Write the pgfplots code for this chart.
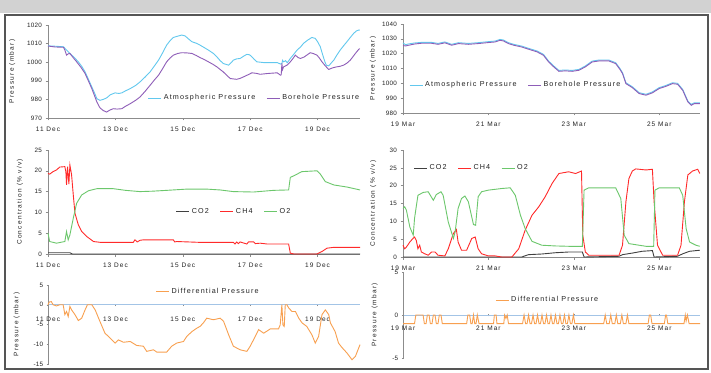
\documentclass[border=0pt]{standalone}
\usepackage{fontspec}
\setmainfont{Liberation Sans}
\newfontfamily\tickfont{Liberation Sans}[LetterSpace=4]
\newfontfamily\datefont{Liberation Sans}[LetterSpace=16]
\newfontfamily\legfont{Liberation Sans}[LetterSpace=16]
\newfontfamily\labfont{Liberation Sans}[LetterSpace=20]
\usepackage{pgfplots}
\pgfplotsset{compat=1.18}
\definecolor{atm}{HTML}{62C8EE}
\definecolor{bore}{HTML}{8E5DB8}
\definecolor{ch4}{HTML}{FF2A2A}
\definecolor{o2}{HTML}{6CC76C}
\definecolor{co2}{HTML}{404040}
\definecolor{diff}{HTML}{F8A050}
\definecolor{zero}{HTML}{A3C4E6}
\definecolor{axgray}{HTML}{8C8C8C}
\definecolor{txt}{HTML}{222222}
\definecolor{band}{HTML}{D2D2D2}
\definecolor{frame}{HTML}{555555}
\pgfplotsset{
  ex/.style={
    scale only axis, anchor=south west,
    axis x line=bottom, axis y line=left,
    axis line style={draw=axgray, line width=0.6pt, -},
    x axis line style={-}, y axis line style={-},
    tick style={draw=axgray, line width=0.5pt},
    tick align=outside, major tick length=2.5pt,
    hide obscured x ticks=false,
    yticklabel style={font=\tickfont\fontsize{6.3}{7}\selectfont, text=txt},
    xticklabel style={font=\datefont\fontsize{6.5}{7}\selectfont, text=txt, yshift=-3pt},
    ylabel style={font=\labfont\fontsize{6.5}{7}\selectfont, text=txt, anchor=center},
    legend style={draw=none, fill=none, font=\legfont\fontsize{7.2}{8}\selectfont, text=txt,
      legend columns=-1, /tikz/every even column/.append style={column sep=9pt}},
    legend image code/.code={\draw[##1] (0pt,0pt)--(13pt,0pt);},
    every axis plot/.append style={line width=0.9pt, mark=none},
    clip=false,
  },
  decx/.style={xmin=0, xmax=9.258, xtick={0,2,4,6,8}, xticklabels={11 Dec,13 Dec,15 Dec,17 Dec,19 Dec}},
  marx/.style={xmin=0, xmax=6.955, xtick={0,2,4,6}, xticklabels={19 Mar,21 Mar,23 Mar,25 Mar}},
}
\begin{document}
\begin{tikzpicture}
\useasboundingbox (0pt,0pt) rectangle (711pt,372pt);
\fill[white] (0pt,0pt) rectangle (711pt,372pt);
\fill[band] (0pt,359pt) rectangle (711pt,372pt);
\draw[frame, line width=1.6pt] (4.8pt,2.8pt) rectangle (708.2pt,357.2pt);

% ---------- top left
\begin{axis}[ex, decx, at={(48pt,254pt)}, width=312pt, height=93pt,
  ymin=970, ymax=1020, ytick={970,980,990,1000,1010,1020},
  yticklabels={970,980,990,1000,1010,1020},
  ylabel={Pressure (mbar)}, ylabel style={at={(axis description cs:-0.115,0.5)}},
  legend style={at={(rel axis cs:0.31,0.215)}, anchor=west}]
\addplot[atm] coordinates {(0,1008.8)(0.2,1008.6)(0.46,1008.3)(0.55,1006.5)(0.65,1004.7)(0.78,1002.5)(0.9,1000.2)(1.0,997.8)(1.1,994.8)(1.2,990.8)(1.3,986.7)(1.38,983.5)(1.45,980.4)(1.54,979.5)(1.64,980)(1.74,980.8)(1.85,982.5)(1.99,983.5)(2.1,983.2)(2.19,983.5)(2.3,984.6)(2.44,985.8)(2.6,987.5)(2.73,989.4)(2.88,992)(3.03,994.8)(3.15,997.8)(3.28,1001.1)(3.4,1005)(3.52,1009.2)(3.62,1011.5)(3.72,1013.3)(3.85,1014)(3.97,1014.6)(4.07,1014.1)(4.17,1012.5)(4.27,1011)(4.4,1010.2)(4.51,1009.2)(4.64,1007.8)(4.76,1006.5)(4.9,1004.8)(5.01,1002.9)(5.1,1001)(5.2,999.3)(5.36,998.4)(5.45,1000)(5.5,1001.1)(5.6,1001.8)(5.7,1002)(5.8,1003.2)(5.9,1004.2)(5.98,1004)(6.05,1002.9)(6.12,1001.5)(6.2,1000.2)(6.4,999.8)(6.6,999.8)(6.8,999.8)(6.9,999)(6.94,999.3)(6.96,1001)(6.99,1000.2)(7.05,1000.8)(7.1,999.7)(7.19,1002)(7.28,1004)(7.39,1006.5)(7.5,1008.3)(7.58,1010.1)(7.7,1011.8)(7.83,1013.3)(7.93,1012.8)(8.0,1011)(8.08,1008.3)(8.15,1004)(8.22,1000)(8.26,998.4)(8.33,998)(8.4,999.5)(8.48,1001.1)(8.57,1003.8)(8.67,1006.5)(8.77,1008.8)(8.87,1011)(8.97,1013.3)(9.07,1015.5)(9.15,1016.8)(9.22,1017.3)(9.25,1017.2)};
\addlegendentry{Atmospheric Pressure}
\addplot[bore] coordinates {(0,1008.7)(0.2,1008.2)(0.46,1008)(0.5,1006.5)(0.55,1003.8)(0.6,1004.5)(0.65,1004.7)(0.75,1002.4)(0.85,1000.2)(0.98,997.2)(1.1,993.9)(1.2,989.9)(1.3,985.8)(1.38,982)(1.45,978.6)(1.54,975.5)(1.64,974)(1.74,973.2)(1.84,974.3)(1.94,975)(2.05,974.8)(2.19,975)(2.3,976.3)(2.44,977.7)(2.6,979.5)(2.73,981.3)(2.88,984.3)(3.03,987.6)(3.15,990.3)(3.28,993)(3.4,996.5)(3.52,1000.2)(3.62,1002.2)(3.72,1003.8)(3.85,1004.7)(3.97,1005.1)(4.12,1005)(4.27,1004.7)(4.4,1003.6)(4.51,1002.5)(4.64,1001.4)(4.76,1000.2)(4.9,998.8)(5.01,997.5)(5.1,996.2)(5.2,994.8)(5.3,993)(5.41,991.2)(5.6,990.8)(5.7,991.3)(5.8,992.1)(5.93,993.2)(6.05,994.3)(6.18,994)(6.3,993.5)(6.5,993.9)(6.8,994.3)(6.9,993)(6.92,993.2)(6.94,999.3)(6.96,996)(6.99,997.5)(7.1,998.5)(7.19,1000.2)(7.27,1002)(7.34,1003.8)(7.42,1002.5)(7.49,1002)(7.6,1002.8)(7.68,1003.8)(7.78,1005.1)(7.88,1004.6)(7.98,1003.8)(8.05,1002.3)(8.13,1000.2)(8.23,998)(8.33,996.1)(8.45,997)(8.57,997.5)(8.67,997.8)(8.77,998.4)(8.87,999.5)(8.97,1001.1)(9.05,1003)(9.12,1004.7)(9.22,1006.9)(9.25,1007.3)};
\addlegendentry{Borehole Pressure}
\end{axis}

% ---------- top right
\begin{axis}[ex, marx, at={(403pt,259pt)}, width=297pt, height=89pt,
  ymin=980, ymax=1040, ytick={980,990,1000,1010,1020,1030,1040},
  yticklabels={980,990,1000,1010,1020,1030,1040},
  ylabel={Pressure (mbar)}, ylabel style={at={(axis description cs:-0.101,0.5)}},
  legend style={at={(rel axis cs:0.01,0.315)}, anchor=west}]
\addplot[atm] coordinates {(0,1027.2)(0.06,1026)(0.12,1026.5)(0.27,1027.2)(0.43,1027.6)(0.67,1027.6)(0.82,1026.9)(0.98,1027.9)(1.14,1026.3)(1.3,1027.4)(1.53,1026.9)(1.76,1027.4)(2.0,1028.1)(2.16,1028.5)(2.27,1029.6)(2.35,1029.2)(2.47,1027.4)(2.59,1026.3)(2.78,1025.1)(2.94,1023.6)(3.14,1021.8)(3.29,1019.5)(3.41,1015)(3.53,1011.7)(3.65,1008.7)(3.8,1009)(3.96,1008.7)(4.12,1009.4)(4.27,1011.7)(4.43,1015)(4.59,1015.7)(4.82,1015.7)(4.98,1013.9)(5.08,1010)(5.14,1007.2)(5.22,1000.4)(5.37,997.7)(5.53,993.7)(5.69,992.6)(5.84,994.2)(6.0,997.1)(6.16,998.6)(6.31,1000.4)(6.43,1000)(6.55,995.9)(6.67,988.1)(6.75,985.8)(6.82,986.9)(6.95,986.9)};
\addlegendentry{Atmospheric Pressure}
\addplot[bore] coordinates {(0,1025.5)(0.06,1025.2)(0.12,1025.6)(0.27,1026.5)(0.43,1027)(0.67,1027)(0.82,1026.3)(0.98,1027.3)(1.14,1025.7)(1.3,1026.8)(1.53,1026.3)(1.76,1026.8)(2.0,1027.5)(2.16,1027.9)(2.27,1029)(2.35,1028.6)(2.47,1026.8)(2.59,1025.7)(2.78,1024.5)(2.94,1023)(3.14,1021.2)(3.29,1018.9)(3.41,1014.4)(3.53,1011.1)(3.65,1008.1)(3.8,1008.4)(3.96,1008.1)(4.12,1008.8)(4.27,1011.1)(4.43,1014.4)(4.59,1015.1)(4.82,1015.1)(4.98,1013.3)(5.08,1009.4)(5.14,1006.6)(5.22,999.8)(5.37,997.1)(5.53,993.1)(5.69,992)(5.84,993.6)(6.0,996.5)(6.16,998)(6.31,999.8)(6.43,999.4)(6.55,995.3)(6.67,987.5)(6.75,985.2)(6.82,986.3)(6.95,986.3)};
\addlegendentry{Borehole Pressure}
\end{axis}

% ---------- middle left
\begin{axis}[ex, decx, at={(48pt,118pt)}, width=312pt, height=104pt,
  ymin=0, ymax=25, ytick={0,5,10,15,20,25}, yticklabels={0,5,10,15,20,25},
  ylabel={Concentration (\% v/v)}, ylabel style={at={(axis description cs:-0.09,0.5)}},
  legend style={at={(rel axis cs:0.4,0.41)}, anchor=west}]
\addplot[co2] coordinates {(0,0.3)(0.65,0.3)(0.72,0)(9.258,0)};
\addlegendentry{CO2}
\addplot[ch4] coordinates {(0,19.4)(0.05,19.2)(0.15,19.8)(0.25,20.2)(0.35,20.9)(0.5,21)(0.53,19.8)(0.55,16.6)(0.58,21)(0.62,16.8)(0.65,21.4)(0.7,19)(0.75,14.2)(0.8,9.8)(0.9,7)(1.0,5.4)(1.15,4.2)(1.35,3)(1.55,2.8)(2.53,2.8)(2.58,3.4)(2.65,2.9)(2.73,3.3)(2.83,3.4)(3.72,3.4)(3.76,2.9)(3.82,3)(4.5,2.8)(5.5,2.8)(5.55,2.4)(5.6,2.9)(5.65,2.5)(5.7,2.9)(5.9,2.4)(5.95,2.9)(6.1,2.9)(6.15,2.5)(6.3,2.6)(6.5,2.4)(7.14,2.4)(7.19,0.2)(7.29,0)(7.98,0)(8.13,0.6)(8.28,1.4)(8.48,1.6)(9.258,1.6)};
\addlegendentry{CH4}
\addplot[o2] coordinates {(0,5)(0.05,3)(0.25,2.6)(0.5,3)(0.55,5.4)(0.6,3.4)(0.65,4.6)(0.75,8.6)(0.85,12.2)(1.0,14.2)(1.2,15.2)(1.45,15.7)(1.94,15.7)(2.3,15.3)(2.73,15)(3.1,15.1)(3.52,15.3)(4.12,15.6)(4.71,15.6)(5.1,15.4)(5.5,15)(6.1,14.9)(6.69,15.3)(7.14,15.4)(7.19,18.4)(7.39,19.2)(7.53,19.8)(7.98,20)(8.08,19.2)(8.23,17.4)(8.48,16.6)(8.87,16.1)(9.258,15.4)};
\addlegendentry{O2}
\end{axis}

% ---------- middle right
\begin{axis}[ex, marx, at={(403pt,115pt)}, width=297pt, height=107pt,
  ymin=0, ymax=30, ytick={0,5,10,15,20,25,30}, yticklabels={0,5,10,15,20,25,30},
  ylabel={Concentration (\% v/v)}, ylabel style={at={(axis description cs:-0.1,0.5)}},
  legend style={at={(rel axis cs:0.025,0.83)}, anchor=west}]
\addplot[co2] coordinates {(0,0)(2.78,0)(2.94,0.66)(3.25,0.84)(3.57,1.2)(3.88,1.4)(4.2,1.4)(4.24,0)(5.06,0.2)(5.14,0.66)(5.37,1.1)(5.6,1.6)(5.84,1.8)(5.88,0)(6.43,0.2)(6.55,0.9)(6.71,1.6)(6.95,1.9)};
\addlegendentry{CO2}
\addplot[ch4] coordinates {(0,3.3)(0.04,2.3)(0.08,2.8)(0.16,4.2)(0.24,5.3)(0.27,5.6)(0.31,4.7)(0.35,2.3)(0.39,3.3)(0.43,1.4)(0.51,0.9)(0.59,0.5)(0.67,1.4)(0.75,1.4)(0.82,0.5)(0.98,0.3)(1.06,2.3)(1.18,6.6)(1.25,7.7)(1.29,4.2)(1.37,1.9)(1.49,1.9)(1.61,5.2)(1.69,5.6)(1.76,2.3)(1.84,0.9)(2.0,0.3)(2.16,0.3)(2.31,0)(2.55,0)(2.71,2.3)(2.86,7.5)(3.02,11.7)(3.18,14.1)(3.33,16.9)(3.49,20.6)(3.65,23.4)(3.88,23.9)(4.04,23.4)(4.18,24.1)(4.21,6.1)(4.27,1.4)(4.35,0.5)(5.06,0.5)(5.14,3.3)(5.22,15.5)(5.29,22)(5.37,24.1)(5.45,24.7)(5.69,24.4)(5.84,24.6)(5.88,15.5)(5.96,3.3)(6.08,0.5)(6.43,0.5)(6.51,3.3)(6.59,15.5)(6.67,23)(6.78,24.1)(6.9,24.6)(6.95,23.4)};
\addlegendentry{CH4}
\addplot[o2] coordinates {(0,13.6)(0.04,14.1)(0.08,13.1)(0.16,8.4)(0.24,6.1)(0.27,10.8)(0.31,14.1)(0.35,17.3)(0.47,18.1)(0.59,18.3)(0.71,15.9)(0.78,17.5)(0.89,18.3)(0.94,17.3)(1.06,9.8)(1.18,5.2)(1.22,7)(1.29,13.6)(1.37,16.4)(1.45,17.1)(1.53,15.5)(1.65,9.1)(1.7,8.9)(1.76,16.9)(1.84,18.3)(2.0,18.75)(2.31,19.2)(2.51,19.4)(2.63,17.3)(2.75,11.7)(2.86,8)(3.02,4.4)(3.25,3.3)(3.57,3.1)(3.88,3)(4.2,3)(4.24,18.75)(4.35,19.4)(4.98,19.4)(5.1,16.4)(5.18,6.1)(5.29,3.75)(5.69,3)(5.87,3)(5.9,18.75)(6.0,19.4)(6.47,19.4)(6.55,17.3)(6.63,8)(6.71,4.2)(6.86,3.3)(6.95,3)};
\addlegendentry{O2}
\end{axis}

% ---------- bottom left
\begin{axis}[ex, decx, at={(48pt,8pt)}, width=312pt, height=79pt,
  axis x line=middle, axis y line=left,
  x axis line style={draw=zero, -}, y axis line style={-},
  ymin=-15, ymax=5, ytick={-15,-10,-5,0,5}, yticklabels={-15,-10,-5,0,5},
  xticklabel style={yshift=-4pt},
  ylabel={Pressure (mbar)}, ylabel style={at={(axis description cs:-0.1,0.5)}},
  legend style={at={(rel axis cs:0.335,0.92)}, anchor=west}]
\addplot[diff] coordinates {(0,0)(0.04,0.7)(0.1,0.8)(0.15,0)(0.25,-0.3)(0.35,0)(0.45,0)(0.5,-2.5)(0.55,-1.7)(0.6,-3)(0.65,-0.4)(0.7,-1.3)(0.8,-2.5)(0.9,-4)(1.0,-3.4)(1.1,-1.3)(1.17,0)(1.3,0)(1.4,-1.3)(1.54,-4.2)(1.69,-7.2)(1.84,-8.4)(1.99,-9.7)(2.09,-8.9)(2.24,-9.5)(2.44,-9.3)(2.63,-10.3)(2.83,-10.5)(2.93,-11.8)(3.13,-11.4)(3.23,-12)(3.52,-12)(3.67,-10.5)(3.82,-9.7)(4.02,-9.3)(4.12,-8)(4.27,-6.8)(4.42,-5.9)(4.51,-5.5)(4.61,-4.6)(4.71,-3.4)(4.91,-3.8)(5.11,-3.4)(5.21,-4.2)(5.36,-7.6)(5.5,-10.5)(5.7,-11.4)(5.9,-11.8)(6.0,-10.5)(6.15,-8)(6.25,-6.3)(6.4,-7.2)(6.6,-6.1)(6.84,-6.1)(6.89,-5.1)(6.94,0)(6.97,-5.1)(7.01,-5.5)(7.04,0)(7.09,0)(7.14,-0.8)(7.24,-1.7)(7.34,-1.7)(7.44,-3.4)(7.54,-4.6)(7.68,-5.5)(7.83,-7.6)(7.93,-9.7)(8.03,-8)(8.13,-2.5)(8.23,-1.3)(8.33,-2.5)(8.38,-4.6)(8.52,-6.8)(8.62,-9.7)(8.72,-10.8)(8.87,-12.2)(9.02,-13.9)(9.12,-13.1)(9.258,-10.1)};
\addlegendentry{Differential Pressure}
\end{axis}

% ---------- bottom right
\begin{axis}[ex, marx, at={(403pt,14pt)}, width=297pt, height=86pt,
  axis x line=middle, axis y line=left,
  x axis line style={draw=zero, -}, y axis line style={-},
  ymin=-5, ymax=5, ytick={-5,0,5}, yticklabels={-5,0,5},
  xticklabel style={yshift=-3pt},
  ylabel={Pressure (mbar)}, ylabel style={at={(axis description cs:-0.095,0.5)}},
  legend style={at={(rel axis cs:0.3,0.674)}, anchor=west}]
\addplot[diff] coordinates {(0,-1)(0.27,-1)(0.3,0)(0.47,0)(0.5,-1)(0.54,-1)(0.57,0)(0.61,0)(0.64,-1)(0.68,-1)(0.71,0)(0.75,0)(0.78,-1)(0.82,-1)(0.85,0)(0.89,0)(0.92,-1)(1.49,-1)(1.52,0)(1.56,0)(1.59,-1)(1.62,-1)(1.65,0)(1.68,-1)(1.71,-1)(1.74,0)(1.78,-1)(2.12,-1)(2.14,0)(2.18,0)(2.2,-1)(2.36,-1)(2.38,0)(2.41,-0.4)(2.44,0)(2.47,-1)(2.8,-1)(2.835,0)(2.87,-1)(2.905,-1)(2.94,0)(2.975,-1)(3.01,-1)(3.045,0)(3.08,-1)(3.115,-1)(3.15,0)(3.185,-1)(3.22,-1)(3.255,0)(3.29,-1)(3.325,-1)(3.36,0)(3.395,-1)(3.43,-1)(3.465,0)(3.5,-1)(3.535,-1)(3.57,0)(3.605,-1)(3.64,-1)(3.675,0)(3.71,-1)(3.745,-1)(3.78,0)(3.815,-1)(3.85,-1)(3.885,0)(3.92,-1)(3.955,-1)(3.99,0)(4.025,-1)(4.7,-1)(4.735,0)(4.77,-1)(4.83,-1)(4.865,0)(4.9,-1)(4.96,-1)(4.995,0)(5.03,-1)(5.09,-1)(5.125,0)(5.16,-1)(5.22,-1)(5.255,0)(5.29,-1)(5.74,-1)(5.77,0)(5.8,0)(5.83,-1)(6.12,-1)(6.15,0)(6.17,0)(6.2,-1)(6.58,-1)(6.61,0)(6.63,-0.7)(6.66,0)(6.7,-1)(6.955,-1)};
\addlegendentry{Differential Pressure}
\end{axis}
\end{tikzpicture}
\end{document}
